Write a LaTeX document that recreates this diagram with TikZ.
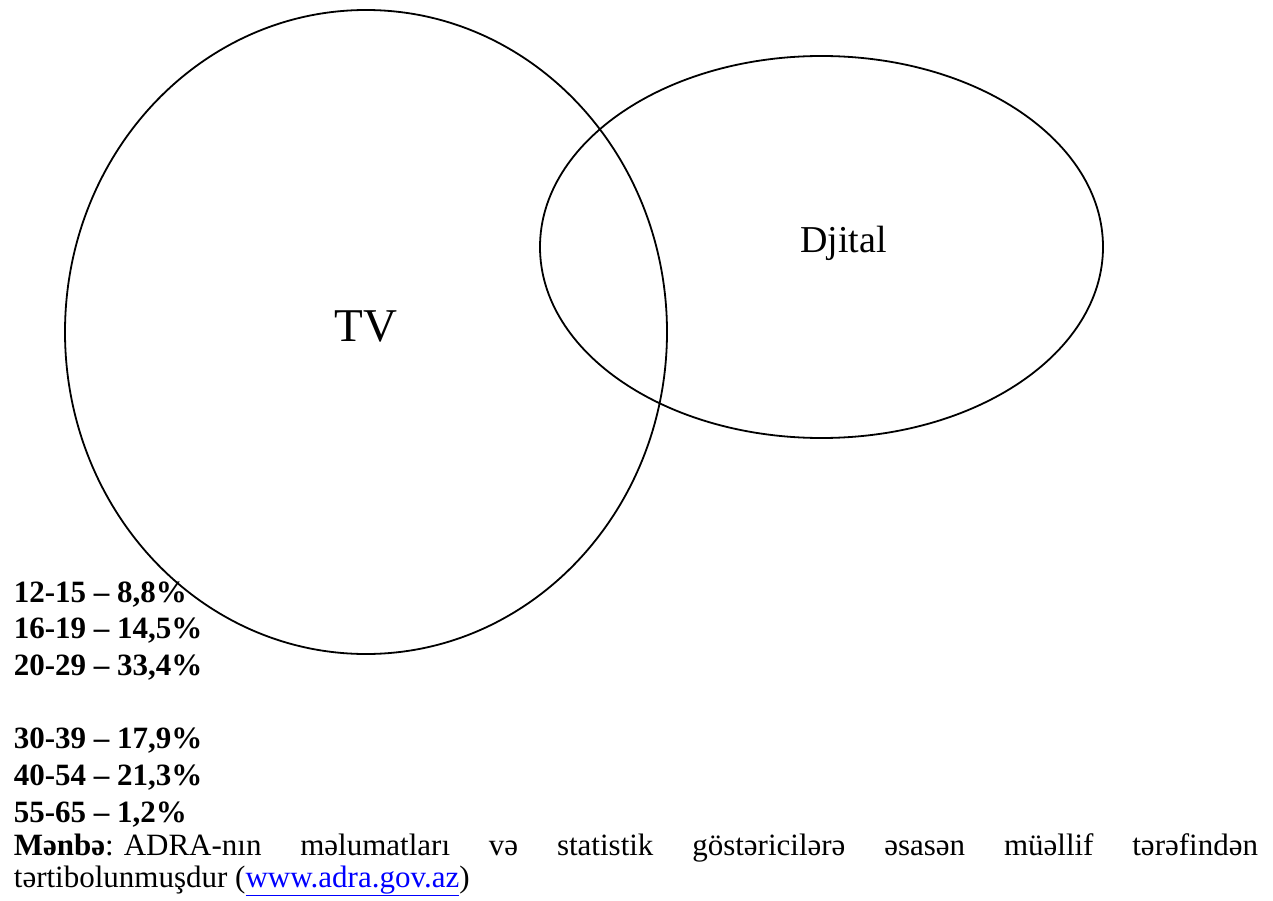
\documentclass[tikz,border=0pt]{standalone}
\usepackage{fontspec}
\setmainfont{Liberation Serif}
\usepackage{xcolor}
\definecolor{linkblue}{RGB}{0,0,255}

\begin{document}
\begin{tikzpicture}[x=1pt, y=-1pt, line width=1.8pt,
        agerow/.style={anchor=base west, inner sep=0pt, font=\fontsize{31}{37}\selectfont\bfseries},
        srcrow/.style={anchor=base west, inner sep=0pt, font=\fontsize{31}{37}\selectfont}]
        \useasboundingbox (0,0) rectangle (1273,901);

        % --- Sets ---
        \draw (366,332) ellipse [x radius=301pt, y radius=322pt];
        \draw (821.5,247) ellipse [x radius=281.5pt, y radius=191pt];
        \node[anchor=base, inner sep=0pt, font=\fontsize{47}{56}\selectfont] (tv) at (366,341) {TV};
        \node[anchor=base, inner sep=0pt, font=\fontsize{38}{45}\selectfont] (djital) at (843.5,252) {Djital};

        % --- Age groups ---
        \node[agerow] (a1) at (13,602) {12-15 -- 8,8\%};
        \node[agerow] (a2) at (13,638.5) {16-19 -- 14,5\%};
        \node[agerow] (a3) at (13,675) {20-29 -- 33,4\%};

        \node[agerow] (a4) at (13,748) {30-39 -- 17,9\%};
        \node[agerow] (a5) at (13,785) {40-54 -- 21,3\%};
        \node[agerow] (a6) at (13,822) {55-65 -- 1,2\%};

        % --- Source ---
        \node[srcrow] (src1) at (13,855) {\makebox[1244pt][s]{\textbf{Mənbə}:\hspace{10pt}ADRA-nın məlumatları və statistik göstəricilərə əsasən müəllif tərəfindən}};
        \node[srcrow] (src2) at (13,887) {tərtibolunmuşdur (\textcolor{linkblue}{\underline{www.adra.gov.az}})};

    \end{tikzpicture}
\end{document}
